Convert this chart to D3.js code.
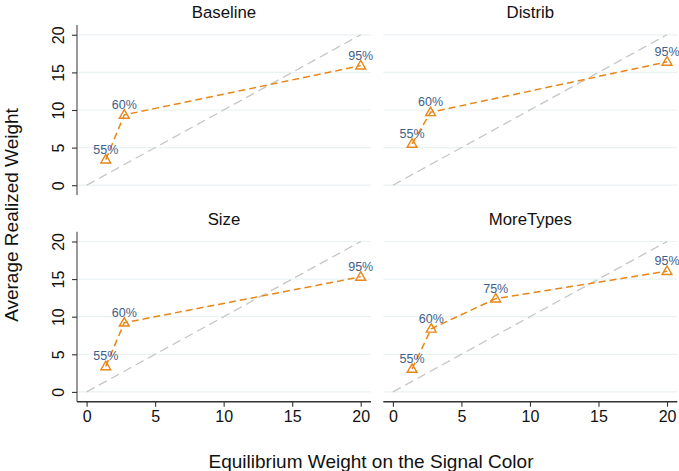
<!DOCTYPE html>
<html>
<head>
<meta charset="utf-8">
<script src="https://cdn.jsdelivr.net/npm/d3@7"></script>
<style>
  body { margin: 0; background: #fff; }
  text { font-family: Arial, "Liberation Sans", sans-serif; }
</style>
</head>
<body>
<div id="chart"></div>
<script>
// panel names, in reading order
var panels = ['Baseline', 'Distrib', 'Size', 'MoreTypes'];

// equilibrium weight (x) and average realized weight (y) per panel
var baselineX = [1.4, 2.75, 20];
var baselineY = [3.4, 9.35, 15.9];
var baselineLab = ['55%', '60%', '95%'];

var distribX = [1.4, 2.75, 20];
var distribY = [5.5, 9.7, 16.4];
var distribLab = ['55%', '60%', '95%'];

var sizeX = [1.4, 2.75, 20];
var sizeY = [3.4, 9.2, 15.3];
var sizeLab = ['55%', '60%', '95%'];

var moreTypesX = [1.4, 2.8, 7.5, 20];
var moreTypesY = [3.05, 8.4, 12.4, 16.05];
var moreTypesLab = ['55%', '60%', '75%', '95%'];

var xTicks = [0, 5, 10, 15, 20];
var yTicks = [0, 5, 10, 15, 20];
var diagonal = [0, 20];

var series = [
  { x: baselineX, y: baselineY, lab: baselineLab },
  { x: distribX, y: distribY, lab: distribLab },
  { x: sizeX, y: sizeY, lab: sizeLab },
  { x: moreTypesX, y: moreTypesY, lab: moreTypesLab }
];

var width = 679, height = 471;
var orange = '#e8861a';
var labelColor = '#3f6089';

var colLeft = [77, 383.3];
var rowTop = [25, 231.7];
var pw = 294, ph = 170;

var x = d3.scaleLinear().domain([-0.7, 20.75]).range([0, pw]);
var y = d3.scaleLinear().domain([-1.3, 21.3]).range([ph, 0]);

var svg = d3.select('#chart').append('svg')
            .attr('width', width)
            .attr('height', height);

var line = d3.line()
             .x(function(d) { return x(d[0]); })
             .y(function(d) { return y(d[1]); });

var tri = d3.symbol().type(d3.symbolTriangle).size(42);

panels.forEach(function(name, i) {
  var col = i % 2, row = Math.floor(i / 2);
  var g = svg.append('g')
             .attr('transform', 'translate(' + colLeft[col] + ',' + rowTop[row] + ')');

  // grid lines
  g.selectAll('line.grid').data(yTicks).enter()
   .append('line')
   .attr('x1', 0).attr('x2', pw)
   .attr('y1', function(d) { return y(d); })
   .attr('y2', function(d) { return y(d); })
   .attr('stroke', '#eaf2f3')
   .attr('stroke-width', 1.2);

  // title
  svg.append('text')
     .attr('x', colLeft[col] + pw / 2)
     .attr('y', rowTop[row] - 7)
     .attr('text-anchor', 'middle')
     .attr('font-size', '16.8px')
     .attr('fill', '#111')
     .text(name);

  // 45 degree reference line
  g.append('path')
   .attr('d', line(diagonal.map(function(v) { return [v, v]; })))
   .attr('stroke', '#c6c6c6')
   .attr('stroke-width', 1.3)
   .attr('stroke-dasharray', '9,5')
   .attr('fill', 'none');

  var s = series[i];
  var pts = s.x.map(function(v, j) { return [v, s.y[j], s.lab[j]]; });

  g.append('path')
   .attr('d', line(pts))
   .attr('stroke', orange)
   .attr('stroke-width', 1.5)
   .attr('stroke-dasharray', '7,4')
   .attr('fill', 'none');

  g.selectAll('path.mk').data(pts).enter()
   .append('path')
   .attr('class', 'mk')
   .attr('d', tri)
   .attr('transform', function(d) { return 'translate(' + x(d[0]) + ',' + (y(d[1]) + 0.5) + ')'; })
   .attr('fill', 'none')
   .attr('stroke', orange)
   .attr('stroke-width', 1.4);

  g.selectAll('text.lab').data(pts).enter()
   .append('text')
   .attr('x', function(d) { return x(d[0]); })
   .attr('y', function(d) { return y(d[1]) - 6; })
   .attr('text-anchor', 'middle')
   .attr('font-size', '12.5px')
   .attr('fill', labelColor)
   .text(function(d) { return d[2]; });

  // y axis on the left column
  if (col === 0) {
    var ya = g.append('g')
              .call(d3.axisLeft(y).tickValues(yTicks).tickSize(5).tickPadding(0).tickFormat(d3.format('d')));
    ya.select('.domain').attr('stroke', '#808080').attr('stroke-width', 1.6)
      .attr('d', 'M0,0V' + ph);
    ya.selectAll('.tick line').attr('stroke', '#333').attr('stroke-width', 1.1);
    ya.selectAll('.tick text')
      .attr('font-size', '16px')
      .attr('fill', '#111')
      .attr('text-anchor', 'middle')
      .attr('x', null).attr('dy', null)
      .attr('transform', 'translate(-19,0) rotate(-90)')
      .attr('y', 0)
      .attr('dominant-baseline', 'central');
  }

  // x axis on the bottom row
  if (row === 1) {
    var xa = g.append('g')
              .attr('transform', 'translate(0,' + ph + ')')
              .call(d3.axisBottom(x).tickValues(xTicks).tickSize(5).tickPadding(4).tickFormat(d3.format('d')));
    xa.select('.domain').attr('stroke', '#333').attr('stroke-width', 1.4)
      .attr('d', 'M0,0H' + pw);
    xa.selectAll('.tick line').attr('stroke', '#333').attr('stroke-width', 1.1);
    xa.selectAll('.tick text').attr('font-size', '16px').attr('fill', '#111');
  }
});

// shared axis titles
svg.append('text')
   .attr('transform', 'translate(18,215) rotate(-90)')
   .attr('text-anchor', 'middle')
   .attr('font-size', '19px')
   .attr('fill', '#111')
   .text('Average Realized Weight');

svg.append('text')
   .attr('x', 371)
   .attr('y', 468)
   .attr('text-anchor', 'middle')
   .attr('font-size', '19px')
   .attr('fill', '#111')
   .text('Equilibrium Weight on the Signal Color');
</script>
</body>
</html>
